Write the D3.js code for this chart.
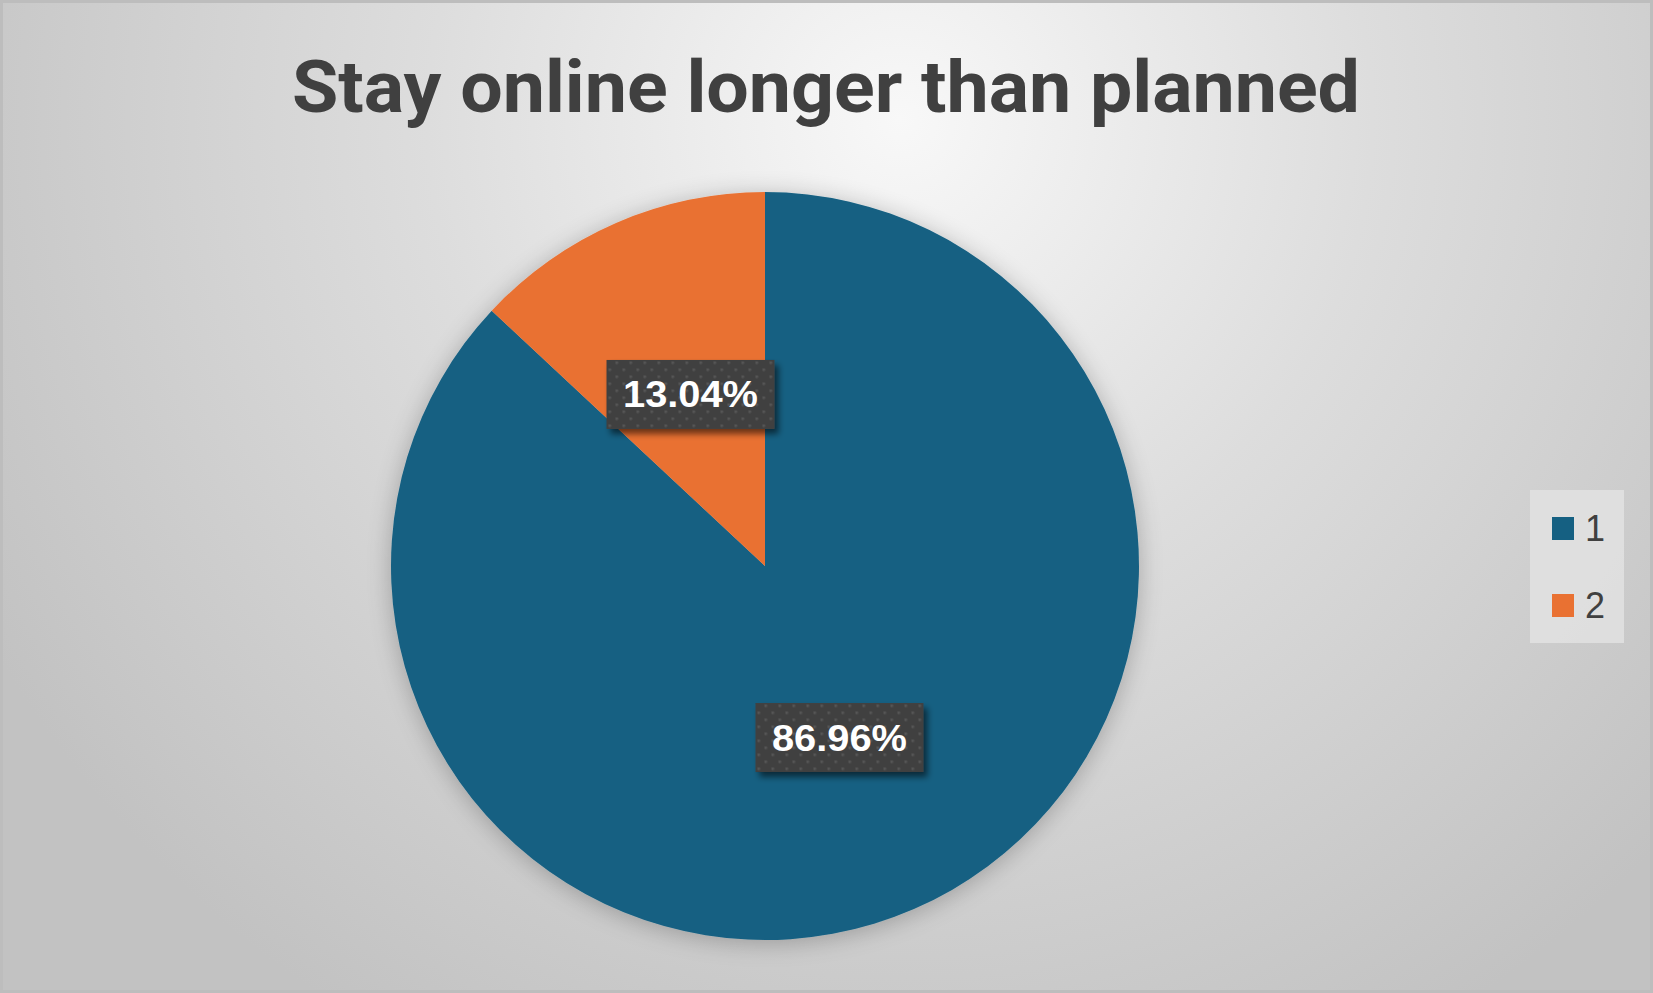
<!DOCTYPE html>
<html>
<head>
<meta charset="utf-8">
<script src="https://cdn.jsdelivr.net/npm/d3@7"></script>
<style>
  html, body { margin: 0; padding: 0; overflow: hidden; }
  svg { display: block; }
</style>
</head>
<body>
<svg class="camembert"></svg>
<script>

//DONNEES---------------------------------------------------
let categories = ["1", "2"];
let valeurs = [86.96, 13.04];
let etiquettes = ["86.96%", "13.04%"];
let titre = "Stay online longer than planned";

let couleurs = ["#156082", "#E97132"];

//DIMENSIONS-----------------------------------------------
let w = 1653;
let h = 993;
let cx = 765, cy = 566, rayon = 374;

let svg = d3.select(".camembert")
  .attr("width", w)
  .attr("height", h);

let defs = svg.append("defs");

//Fond en dégradé radial
let grad = defs.append("radialGradient")
  .attr("id", "fond")
  .attr("gradientUnits", "userSpaceOnUse")
  .attr("cx", 900).attr("cy", 120).attr("r", 1050);
grad.append("stop").attr("offset", "0%").attr("stop-color", "#f8f8f8");
grad.append("stop").attr("offset", "45%").attr("stop-color", "#dddddd");
grad.append("stop").attr("offset", "100%").attr("stop-color", "#c2c2c2");

//Ombre du camembert
let ombre = defs.append("filter").attr("id", "ombre")
  .attr("x", "-20%").attr("y", "-20%").attr("width", "140%").attr("height", "140%");
ombre.append("feGaussianBlur").attr("in", "SourceAlpha").attr("stdDeviation", 12);
ombre.append("feOffset").attr("dx", 0).attr("dy", 3).attr("result", "flou");
ombre.append("feComponentTransfer").append("feFuncA").attr("type", "linear").attr("slope", 0.25);
let fus = ombre.append("feMerge");
fus.append("feMergeNode");
fus.append("feMergeNode").attr("in", "SourceGraphic");

//Ombre des étiquettes
let ombre2 = defs.append("filter").attr("id", "ombre2")
  .attr("x", "-20%").attr("y", "-20%").attr("width", "150%").attr("height", "160%");
ombre2.append("feGaussianBlur").attr("in", "SourceAlpha").attr("stdDeviation", 3);
ombre2.append("feOffset").attr("dx", 4).attr("dy", 5).attr("result", "flou");
ombre2.append("feComponentTransfer").append("feFuncA").attr("type", "linear").attr("slope", 0.55);
let fus2 = ombre2.append("feMerge");
fus2.append("feMergeNode");
fus2.append("feMergeNode").attr("in", "SourceGraphic");

//Motif à points des étiquettes
let motif = defs.append("pattern")
  .attr("id", "points")
  .attr("patternUnits", "userSpaceOnUse")
  .attr("width", 14).attr("height", 14);
motif.append("rect").attr("width", 14).attr("height", 14).attr("fill", "#404040");
motif.append("rect").attr("x", 2).attr("y", 2).attr("width", 2.5).attr("height", 2.5).attr("fill", "#575757");
motif.append("rect").attr("x", 9).attr("y", 9).attr("width", 2.5).attr("height", 2.5).attr("fill", "#575757");

//Fond et bordure
svg.append("rect")
  .attr("x", 1.5).attr("y", 1.5)
  .attr("width", w - 3).attr("height", h - 3)
  .attr("fill", "url(#fond)")
  .attr("stroke", "#bdbdbd")
  .attr("stroke-width", 3);

//Titre
svg.append("text")
  .attr("x", 826)
  .attr("y", 112)
  .attr("text-anchor", "middle")
  .attr("font-family", "Roboto, 'Liberation Sans', sans-serif")
  .attr("font-weight", "bold")
  .attr("font-size", 72)
  .attr("fill", "#404040")
  .attr("textLength", 1068)
  .attr("lengthAdjust", "spacingAndGlyphs")
  .text(titre);

//CAMEMBERT------------------------------------------------
let pie = d3.pie().sort(null).value(function(d) { return d; });
let arc = d3.arc().innerRadius(0).outerRadius(rayon);
let parts = pie(valeurs);

let g = svg.append("g")
  .attr("transform", "translate(" + cx + "," + cy + ")");

g.append("g")
  .attr("filter", "url(#ombre)")
  .selectAll("path")
  .data(parts)
  .enter().append("path")
    .attr("d", arc)
    .attr("fill", function(d, i) { return couleurs[i]; });

//Etiquettes de données
let bw = 168, bh = 69;
let lab = g.selectAll(".etiquette")
  .data(parts)
  .enter().append("g")
    .attr("class", "etiquette")
    .attr("transform", function(d) {
      let c = arc.centroid(d);
      return "translate(" + c[0] + "," + c[1] + ")";
    });

lab.append("rect")
  .attr("x", -bw / 2).attr("y", -bh / 2)
  .attr("width", bw).attr("height", bh)
  .attr("fill", "url(#points)")
  .attr("filter", "url(#ombre2)");

lab.append("text")
  .attr("x", 0)
  .attr("y", 13)
  .attr("text-anchor", "middle")
  .attr("font-family", "'Liberation Sans', Arial, sans-serif")
  .attr("font-weight", "bold")
  .attr("font-size", 36)
  .attr("fill", "#ffffff")
  .attr("textLength", 135)
  .attr("lengthAdjust", "spacingAndGlyphs")
  .text(function(d, i) { return etiquettes[i]; });

//LEGENDE--------------------------------------------------
let leg = svg.append("g");
leg.append("rect")
  .attr("x", 1530).attr("y", 490)
  .attr("width", 94).attr("height", 153)
  .attr("fill", "#e2e2e2")
  .attr("fill-opacity", 0.85);

let yLeg = d3.scalePoint().domain(categories).range([528.5, 605.5]);

let items = leg.selectAll(".item")
  .data(categories)
  .enter().append("g")
    .attr("class", "item")
    .attr("transform", function(d) { return "translate(0," + yLeg(d) + ")"; });

items.append("rect")
  .attr("x", 1552).attr("y", -11.5)
  .attr("width", 22).attr("height", 23)
  .attr("fill", function(d, i) { return couleurs[i]; });

items.append("text")
  .attr("x", 1585)
  .attr("y", 12.5)
  .attr("font-family", "'Liberation Sans', Arial, sans-serif")
  .attr("font-size", 36)
  .attr("fill", "#404040")
  .text(function(d) { return d; });

</script>
</body>
</html>
